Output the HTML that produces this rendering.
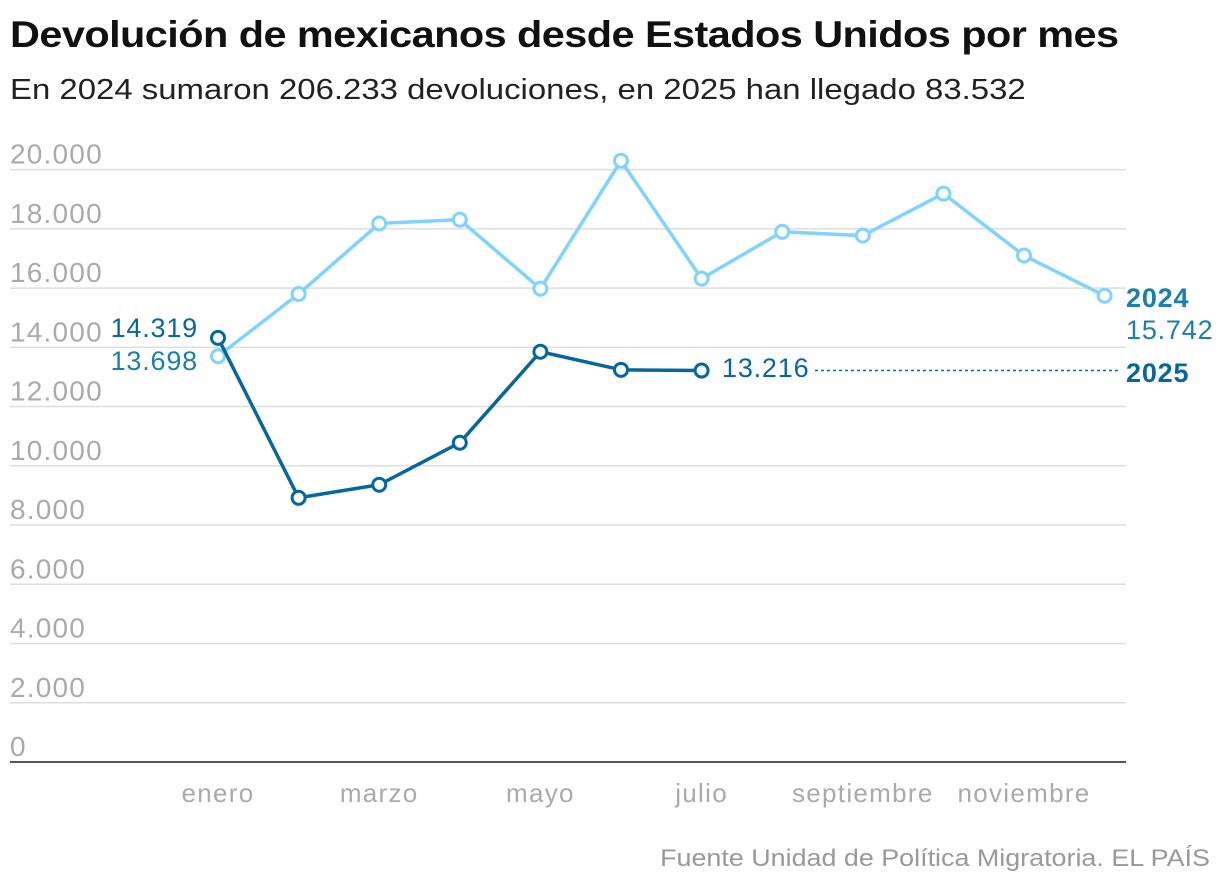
<!DOCTYPE html>
<html><head><meta charset="utf-8"><style>
body{margin:0;background:#fff;font-family:"Liberation Sans",sans-serif;}
#wrap{position:relative;width:1220px;height:890px;overflow:hidden}
h1{position:absolute;left:10px;top:14px;margin:0;font-size:37px;font-weight:bold;color:#111;letter-spacing:-0.5px;transform:scaleX(1.12);transform-origin:left top;white-space:nowrap}
h2{position:absolute;left:10px;top:74px;margin:0;font-size:29px;font-weight:normal;color:#222;transform:scaleX(1.135);transform-origin:left top;white-space:nowrap}
#src{position:absolute;right:10px;top:845px;font-size:24px;color:#999;transform:scaleX(1.12);transform-origin:right top;white-space:nowrap}
svg{position:absolute;left:0;top:0}
</style></head><body><div id="wrap">
<h1>Devolución de mexicanos desde Estados Unidos por mes</h1>
<h2>En 2024 sumaron 206.233 devoluciones, en 2025 han llegado 83.532</h2>
<div id="src">Fuente Unidad de Política Migratoria. EL PAÍS</div>
<svg id="svg" width="1220" height="890"></svg>
</div>
<script>
const months=["enero","febrero","marzo","abril","mayo","junio","julio","agosto","septiembre","octubre","noviembre","diciembre"];
const monthLabels=["enero","","marzo","","mayo","","julio","","septiembre","","noviembre",""];
const yTicks=[0,2000,4000,6000,8000,10000,12000,14000,16000,18000,20000];
const s2024=[13698,15800,18180,18310,15980,20300,16320,17900,17770,19190,17100,15742];
const s2025=[14319,8920,9360,10780,13850,13240,13216];
const svg=document.getElementById('svg');const NS="http://www.w3.org/2000/svg";
const x=i=>218+i*80.6;const y=v=>762-v*0.02962;
function mk(t,a,p){const e=document.createElementNS(NS,t);for(const k in a)e.setAttribute(k,a[k]);(p||svg).appendChild(e);return e;}
const fmt=v=>v.toLocaleString('de-DE');
yTicks.forEach(v=>{
 if(v>0){const l=mk('line',{x1:10,x2:1126,y1:y(v),y2:y(v),stroke:'#ddd','stroke-width':1.5});}
 const t=mk('text',{x:10,y:y(v)-6,'font-size':28,fill:'#aaa','letter-spacing':1.2});t.textContent=fmt(v);
 
});
const ax=mk('line',{x1:10,x2:1126,y1:762,y2:762,stroke:'#222','stroke-width':1.5});

monthLabels.forEach((m,i)=>{if(!m)return;const t=mk('text',{x:x(i),y:802,'font-size':26,fill:'#aaa','text-anchor':'middle','letter-spacing':1.3});t.textContent=m;
 });
function series(d,col,name){
 const p=mk('polyline',{points:d.map((v,i)=>x(i)+','+y(v)).join(' '),fill:'none',stroke:col,'stroke-width':3.5,'stroke-linejoin':'round'});
 
 d.forEach((v,i)=>{const c=mk('circle',{cx:x(i),cy:y(v),r:6.5,fill:'#fff',stroke:col,'stroke-width':3});
  });
}
series(s2024,'#80d3fc','series-2024');
series(s2025,'#05689a','series-2025');
const last=s2025.length-1;
const dl=mk('line',{x1:815,x2:1118,y1:y(s2025[last]),y2:y(s2025[last]),stroke:'#05689a','stroke-width':1.5,'stroke-dasharray':'3,3'});

function lab(tx,xx,yy,col,anchor,w,fs,name){const t=mk('text',{x:xx,y:yy,fill:col,'font-size':fs||27,'font-weight':w||'normal','text-anchor':anchor||'start','letter-spacing':0.8});t.textContent=tx;
 }
lab(fmt(s2025[0]),198,337,'#05689a','end',null,27,'label-2025-enero');
lab(fmt(s2024[0]),198,370,'#1a80a8','end',null,27,'label-2024-enero');
lab(fmt(s2025[last]),722,377,'#05689a','start',null,27,'label-2025-julio');
lab('2024',1126,307,'#1a80a8','start','bold',27,'legend-2024');
lab(fmt(s2024[11]),1126,339,'#1a80a8','start',null,27,'label-2024-diciembre');
lab('2025',1126,382,'#05689a','start','bold',27,'legend-2025');
</script></body></html>
